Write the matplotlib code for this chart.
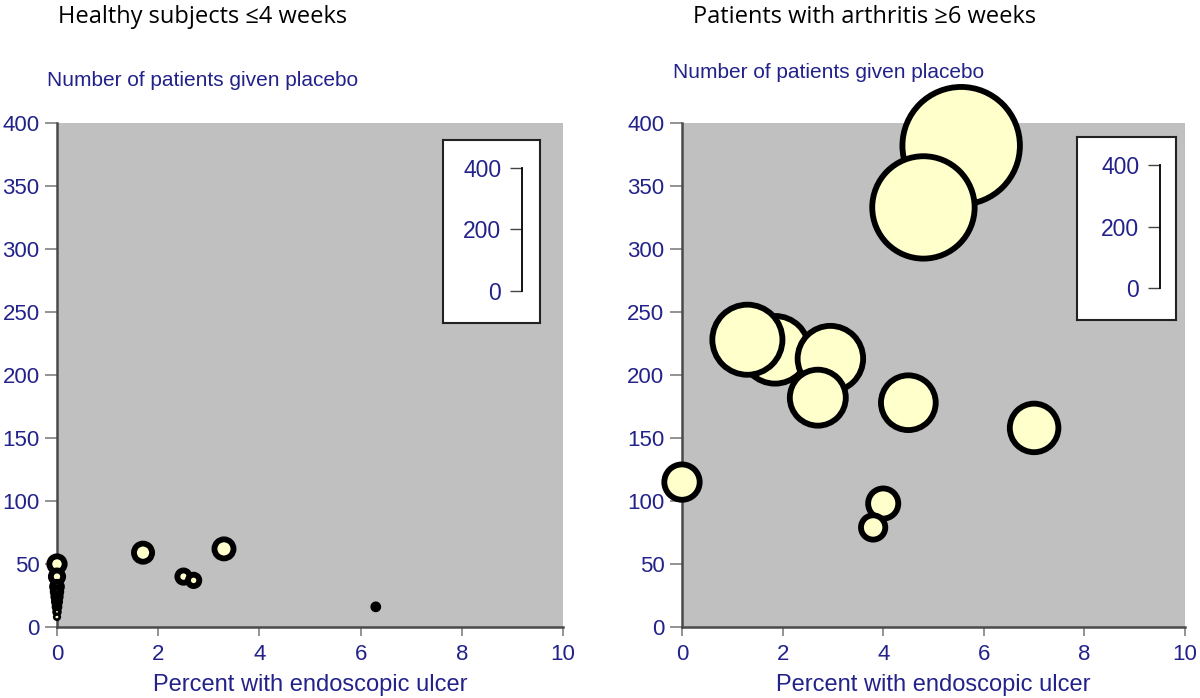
import matplotlib.pyplot as plt

plt.rcParams['font.family'] = ['Liberation Sans', 'DejaVu Sans']

# Healthy subjects <=4 weeks: percent with ulcer, number given placebo
healthy_pct = [0, 0, 0, 0, 0, 0, 0, 0, 0, 1.7, 2.5, 2.7, 3.3, 6.3]
healthy_n = [50, 40, 32, 28, 24, 20, 16, 12, 8, 59, 40, 37, 62, 16]

# Patients with arthritis >=6 weeks
arthritis_pct = [5.55, 4.8, 1.85, 1.3, 2.95, 2.7, 4.5, 7.0, 0.0, 4.0, 3.8]
arthritis_n = [382, 333, 220, 228, 213, 182, 178, 158, 115, 98, 79]

xticks = [0, 2, 4, 6, 8, 10]
yticks = [0, 50, 100, 150, 200, 250, 300, 350, 400]
scale_ticks = [0, 200, 400]

titles = ['Healthy subjects \u22644 weeks', 'Patients with arthritis \u22656 weeks']
ylabel = 'Number of patients given placebo'
xlabel = 'Percent with endoscopic ulcer'

NAVY = '#22228a'
W, H = 1200, 698
DPI = 100
SCALE_PX = 123  # height of the 0-400 size bracket in pixels


def box(left, top, right, bottom):
    return [left / W, 1 - bottom / H, (right - left) / W, (bottom - top) / H]


def sizes(n):
    # bubble diameter grows linearly with n, matching the bracket
    return [(v / 400 * SCALE_PX * 72 / DPI) ** 2 for v in n]


def panel(fig, rect, pct, n, title_xy, ylab_xy, inset_rect, bracket_rect, title):
    ax = fig.add_axes(box(*rect))
    ax.set_facecolor('#c0c0c0')
    ax.set_xlim(0, 10)
    ax.set_ylim(0, 400)
    ax.set_xticks(xticks)
    ax.set_yticks(yticks)
    for s in ['top', 'right']:
        ax.spines[s].set_visible(False)
    for s in ['left', 'bottom']:
        ax.spines[s].set_color('#4a4a4a')
        ax.spines[s].set_linewidth(1.8)
    ax.tick_params(axis='y', length=8.6, width=1.3, color='#8a8a8a', pad=4,
                   labelsize=16, labelcolor=NAVY)
    ax.tick_params(axis='x', length=6.5, width=1.3, color='#8a8a8a', pad=6,
                   labelsize=16, labelcolor=NAVY)
    ax.set_xlabel(xlabel, fontsize=17, color=NAVY, labelpad=6)

    ax.scatter(pct, n, s=sizes(n), c='#ffffcc', edgecolors='black',
               linewidths=4.2, clip_on=False, zorder=5)

    fig.text(title_xy[0] / W, 1 - title_xy[1] / H, title, fontsize=17,
             family=['Open Sans', 'DejaVu Sans'], va='center', ha='left')
    fig.text(ylab_xy[0] / W, 1 - ylab_xy[1] / H, ylabel, fontsize=15,
             color=NAVY, va='center', ha='left')

    # size key
    key = fig.add_axes(box(*inset_rect))
    key.set_xticks([])
    key.set_yticks([])
    for s in key.spines.values():
        s.set_linewidth(1.5)
        s.set_color('#222222')
    key.set_zorder(6)

    sc = fig.add_axes(box(*bracket_rect))
    sc.patch.set_visible(False)
    sc.set_zorder(7)
    sc.set_ylim(0, 400)
    sc.set_xticks([])
    sc.set_yticks(scale_ticks)
    for s in ['top', 'bottom', 'right']:
        sc.spines[s].set_visible(False)
    sc.spines['left'].set_position(('axes', 1))
    sc.spines['left'].set_linewidth(1.3)
    sc.tick_params(axis='y', length=9, width=1.0, color='#444444', pad=6,
                   labelsize=16.5, labelcolor=NAVY)
    return ax


fig = plt.figure(figsize=(W / DPI, H / DPI), dpi=DPI)

panel(fig, (57, 123, 563, 627), healthy_pct, healthy_n,
      (58, 17), (47, 80), (443, 140, 540, 323), (500, 168, 522, 291), titles[0])
panel(fig, (682, 123, 1185, 627), arthritis_pct, arthritis_n,
      (693, 17), (673, 72), (1077, 137, 1176, 320), (1138, 165, 1160, 288), titles[1])

fig.savefig('out.png', dpi=DPI)
